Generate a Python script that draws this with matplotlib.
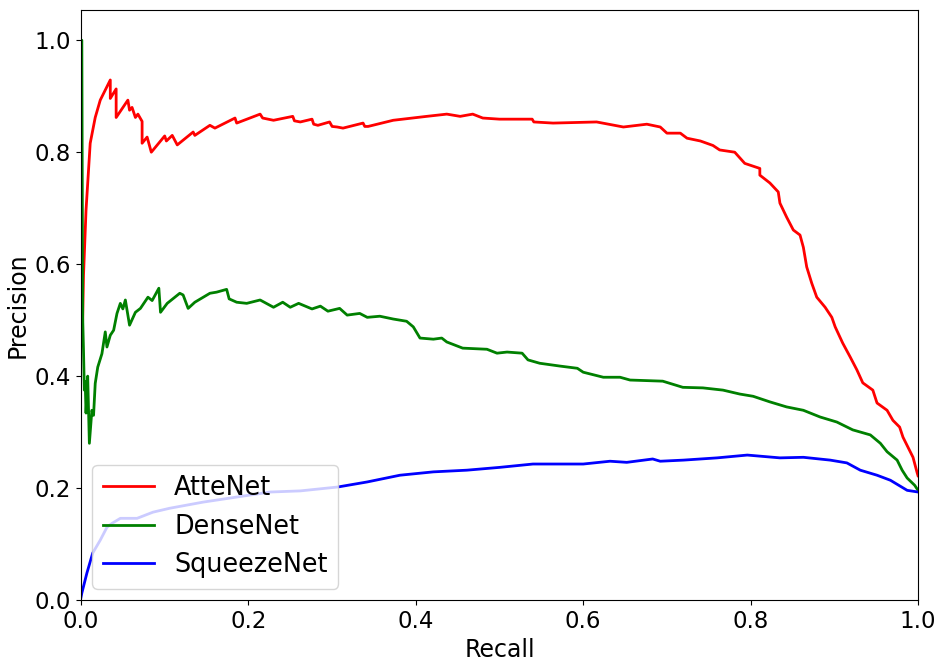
import matplotlib
matplotlib.use("Agg")
import matplotlib.pyplot as plt

# AtteNet
atte_recall = [0.002, 0.003, 0.006, 0.011, 0.017, 0.023, 0.035, 0.035, 0.042, 0.042, 0.056, 0.058,
               0.061, 0.065, 0.068, 0.073, 0.073, 0.079, 0.084, 0.100, 0.102, 0.109, 0.115, 0.134,
               0.136, 0.154, 0.160, 0.184, 0.186, 0.214, 0.217, 0.230, 0.253, 0.255, 0.262, 0.276,
               0.278, 0.283, 0.297, 0.300, 0.306, 0.313, 0.337, 0.339, 0.343, 0.373, 0.413, 0.437,
               0.453, 0.468, 0.480, 0.500, 0.539, 0.541, 0.564, 0.616, 0.648, 0.676, 0.692, 0.700,
               0.716, 0.724, 0.740, 0.755, 0.763, 0.781, 0.793, 0.811, 0.811, 0.823, 0.833, 0.835,
               0.843, 0.851, 0.859, 0.863, 0.867, 0.873, 0.879, 0.889, 0.897, 0.901, 0.910, 0.919,
               0.927, 0.934, 0.946, 0.951, 0.963, 0.970, 0.978, 0.982, 0.988, 0.994, 0.999, 1.000]
atte_precision = [0.50, 0.58, 0.696, 0.816, 0.862, 0.893, 0.929, 0.896, 0.913, 0.862, 0.893, 0.875,
                  0.880, 0.862, 0.868, 0.855, 0.816, 0.827, 0.800, 0.829, 0.820, 0.830, 0.813, 0.836,
                  0.830, 0.848, 0.843, 0.861, 0.852, 0.868, 0.861, 0.857, 0.864, 0.856, 0.854, 0.859,
                  0.850, 0.848, 0.854, 0.846, 0.845, 0.843, 0.852, 0.846, 0.846, 0.857, 0.864, 0.868,
                  0.864, 0.868, 0.861, 0.859, 0.859, 0.854, 0.852, 0.854, 0.845, 0.850, 0.845, 0.834,
                  0.834, 0.825, 0.820, 0.812, 0.804, 0.800, 0.780, 0.771, 0.759, 0.745, 0.729, 0.709,
                  0.684, 0.661, 0.652, 0.630, 0.595, 0.566, 0.541, 0.523, 0.505, 0.488, 0.459, 0.434,
                  0.411, 0.388, 0.375, 0.352, 0.339, 0.321, 0.309, 0.291, 0.273, 0.255, 0.227, 0.222]

# DenseNet
dense_recall = [0.000, 0.001, 0.002, 0.003, 0.004, 0.005, 0.006, 0.008, 0.010, 0.013, 0.015, 0.017,
                0.020, 0.025, 0.029, 0.031, 0.035, 0.039, 0.043, 0.047, 0.050, 0.053, 0.058, 0.065,
                0.071, 0.080, 0.085, 0.093, 0.095, 0.103, 0.118, 0.122, 0.128, 0.136, 0.154, 0.162,
                0.174, 0.177, 0.186, 0.198, 0.214, 0.230, 0.241, 0.250, 0.260, 0.276, 0.286, 0.295,
                0.309, 0.318, 0.333, 0.342, 0.357, 0.373, 0.389, 0.397, 0.405, 0.421, 0.431, 0.437,
                0.456, 0.485, 0.497, 0.509, 0.527, 0.534, 0.548, 0.572, 0.593, 0.600, 0.624, 0.644,
                0.656, 0.695, 0.719, 0.743, 0.767, 0.787, 0.803, 0.823, 0.843, 0.863, 0.883, 0.903,
                0.922, 0.943, 0.955, 0.963, 0.975, 0.981, 0.987, 0.996, 1.000]
dense_precision = [1.000, 1.000, 0.505, 0.446, 0.375, 0.390, 0.334, 0.400, 0.280, 0.339, 0.330, 0.387,
                   0.416, 0.440, 0.479, 0.452, 0.473, 0.482, 0.512, 0.530, 0.520, 0.536, 0.491, 0.514,
                   0.521, 0.541, 0.535, 0.557, 0.514, 0.530, 0.548, 0.545, 0.521, 0.532, 0.548, 0.550,
                   0.555, 0.538, 0.532, 0.530, 0.536, 0.523, 0.532, 0.523, 0.530, 0.520, 0.525, 0.516,
                   0.521, 0.509, 0.512, 0.505, 0.507, 0.502, 0.498, 0.488, 0.468, 0.466, 0.468, 0.461,
                   0.450, 0.448, 0.441, 0.443, 0.441, 0.429, 0.423, 0.418, 0.414, 0.407, 0.398, 0.398,
                   0.393, 0.391, 0.380, 0.379, 0.375, 0.368, 0.364, 0.354, 0.345, 0.339, 0.327, 0.318,
                   0.304, 0.295, 0.280, 0.265, 0.250, 0.232, 0.218, 0.205, 0.196]

# SqueezeNet
squeeze_recall = [0.000, 0.001, 0.007, 0.014, 0.023, 0.031, 0.037, 0.047, 0.067, 0.086, 0.106, 0.146,
                  0.186, 0.226, 0.262, 0.307, 0.342, 0.381, 0.421, 0.461, 0.500, 0.540, 0.560, 0.600,
                  0.632, 0.652, 0.683, 0.692, 0.720, 0.760, 0.796, 0.835, 0.863, 0.895, 0.915, 0.931,
                  0.951, 0.967, 0.987, 1.000]
squeeze_precision = [0.005, 0.0125, 0.048, 0.084, 0.107, 0.130, 0.137, 0.146, 0.146, 0.157, 0.164, 0.175,
                     0.184, 0.193, 0.195, 0.202, 0.211, 0.223, 0.229, 0.232, 0.237, 0.243, 0.243, 0.243,
                     0.248, 0.246, 0.252, 0.248, 0.250, 0.254, 0.259, 0.254, 0.255, 0.250, 0.245, 0.232,
                     0.223, 0.214, 0.196, 0.193]

fig = plt.figure(figsize=(9.44, 6.66), dpi=100)
ax = fig.add_axes([0.0858, 0.099, 0.8867, 0.886])

ax.plot(atte_recall, atte_precision, color="red", lw=2, label="AtteNet")
ax.plot(dense_recall, dense_precision, color="green", lw=2, label="DenseNet")
ax.plot(squeeze_recall, squeeze_precision, color="blue", lw=2, label="SqueezeNet")

ax.set_xlim(0, 1)
ax.set_ylim(0, 1.054)
ax.set_xticks([0, 0.2, 0.4, 0.6, 0.8, 1.0])
ax.set_yticks([0, 0.2, 0.4, 0.6, 0.8, 1.0])
ax.tick_params(labelsize=16.5)
ax.set_xlabel("Recall", fontsize=17)
ax.set_ylabel("Precision", fontsize=17)
ax.legend(loc="lower left", fontsize=18.4, borderaxespad=0.45)

fig.savefig("out.png")
